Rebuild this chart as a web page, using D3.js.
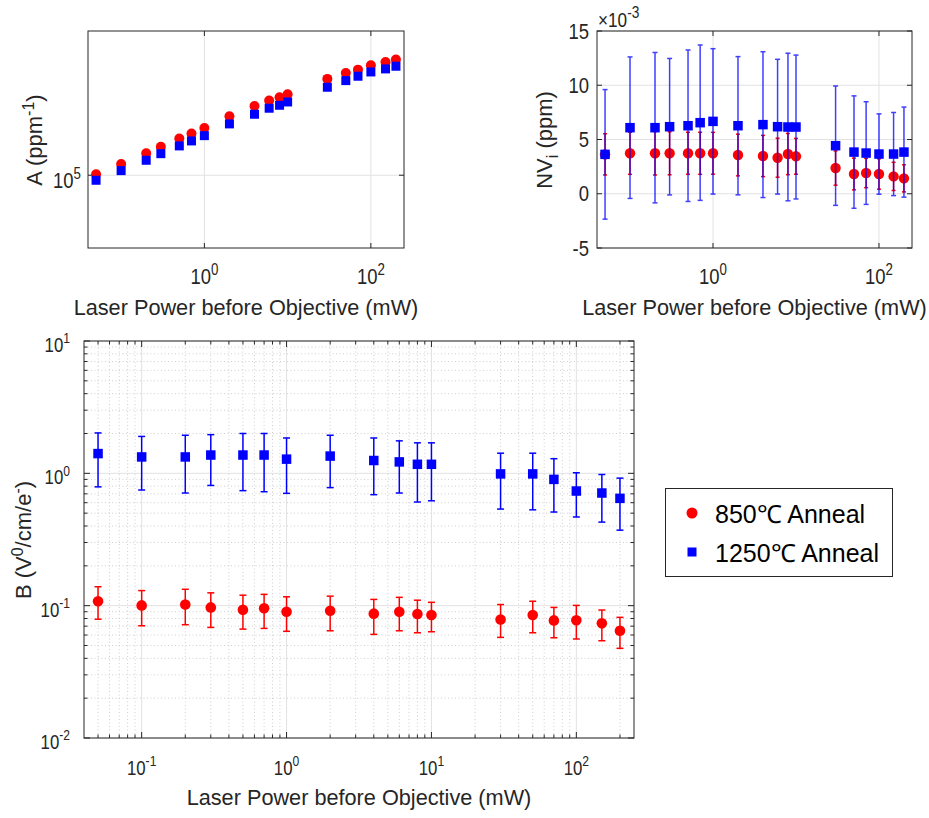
<!DOCTYPE html>
<html><head><meta charset="utf-8">
<script src="https://cdn.jsdelivr.net/npm/d3@7"></script>
<style>
body{margin:0;background:#fff}
text{font-family:"Liberation Sans",Arial,Helvetica,sans-serif;fill:#262626}
</style>
</head><body>
<svg id="c" width="929" height="818"></svg>
<script>
// ---------- data ----------
const power = [0.05,0.1,0.2,0.3,0.5,0.7,1,2,4,6,8,10,30,50,70,100,150,200];

const A850  = [1.01e5,1.127e5,1.263e5,1.354e5,1.475e5,1.555e5,1.652e5,1.870e5,2.086e5,2.207e5,2.288e5,2.362e5,2.779e5,2.961e5,3.066e5,3.213e5,3.328e5,3.410e5];
const A1250 = [0.948e5,1.050e5,1.172e5,1.257e5,1.365e5,1.439e5,1.522e5,1.724e5,1.910e5,2.036e5,2.101e5,2.176e5,2.544e5,2.729e5,2.859e5,2.992e5,3.090e5,3.179e5];

const NV850     = [3.63e-3,3.73e-3,3.73e-3,3.73e-3,3.73e-3,3.73e-3,3.73e-3,3.57e-3,3.48e-3,3.32e-3,3.66e-3,3.45e-3,2.37e-3,1.82e-3,1.91e-3,1.82e-3,1.60e-3,1.42e-3];
const NV850err  = [1.90e-3,1.94e-3,2.00e-3,1.98e-3,1.94e-3,1.94e-3,1.93e-3,1.92e-3,1.90e-3,1.80e-3,1.90e-3,1.65e-3,1.58e-3,1.46e-3,1.35e-3,1.40e-3,1.30e-3,1.25e-3];
const NV1250    = [3.63e-3,6.09e-3,6.09e-3,6.18e-3,6.27e-3,6.55e-3,6.67e-3,6.27e-3,6.37e-3,6.18e-3,6.15e-3,6.15e-3,4.43e-3,3.84e-3,3.75e-3,3.66e-3,3.66e-3,3.84e-3];
const NV1250err = [5.97e-3,6.52e-3,6.93e-3,6.29e-3,6.98e-3,7.16e-3,6.70e-3,6.37e-3,6.72e-3,6.21e-3,6.80e-3,6.63e-3,5.50e-3,5.18e-3,4.73e-3,3.70e-3,3.83e-3,4.15e-3];

const B850    = [0.108,0.1005,0.102,0.097,0.093,0.0955,0.090,0.0916,0.087,0.090,0.0864,0.0849,0.0787,0.0849,0.0774,0.0776,0.0735,0.0646];
const B850hi  = [0.139,0.130,0.133,0.125,0.120,0.1217,0.1167,0.118,0.1115,0.1156,0.110,0.106,0.102,0.108,0.097,0.1005,0.0927,0.0816];
const B850lo  = [0.079,0.0705,0.0718,0.0685,0.0665,0.0673,0.064,0.0646,0.0607,0.0646,0.0624,0.0635,0.0576,0.0624,0.0572,0.056,0.0543,0.0476];
const B1250   = [1.41,1.33,1.33,1.375,1.375,1.375,1.28,1.35,1.25,1.22,1.17,1.17,0.99,0.99,0.90,0.735,0.71,0.647];
const B1250hi = [2.02,1.90,1.94,1.96,2.00,2.00,1.85,1.94,1.85,1.76,1.70,1.70,1.42,1.42,1.29,1.01,0.98,0.92];
const B1250lo = [0.79,0.748,0.71,0.81,0.74,0.726,0.706,0.78,0.69,0.71,0.607,0.62,0.537,0.53,0.51,0.468,0.428,0.372];

const seriesNames = ["850\u2103 Anneal", "1250\u2103 Anneal"];
const xLabel = "Laser Power before Objective (mW)";
const topXTicks = [1, 100];
const bottomXTicks = [0.1, 1, 10, 100];
const bottomYTicks = [0.01, 0.1, 1, 10];
const nvTicks = [-5e-3, 0, 5e-3, 10e-3, 15e-3];
const aTicks = [1e5];

// ---------- setup ----------
const svg = d3.select('#c');
svg.append('rect').attr('width',929).attr('height',818).attr('fill','#fff');
const RED = '#ff0000', BLUE = '#0000ff', AX = '#262626', GRID = '#e2e2e2';

function pow10Label(g, x, y, exp, anchor, size, sx){
  const t = g.append('text').attr('transform',`translate(${x},${y}) scale(${sx},1)`)
    .attr('text-anchor',anchor).attr('font-size',size);
  t.append('tspan').text('10');
  t.append('tspan').attr('dy',-size*0.42).attr('font-size',size*0.72).text(exp);
  return t;
}
function plainLabel(g, x, y, s, anchor, size, sx){
  return g.append('text').attr('transform',`translate(${x},${y}) scale(${sx},1)`)
    .attr('text-anchor',anchor).attr('font-size',size).text(s);
}
function frame(g, L, R, T, Bt){
  g.append('rect').attr('x',L).attr('y',T).attr('width',R-L).attr('height',Bt-T)
    .attr('fill','none').attr('stroke',AX).attr('stroke-width',1);
}
function vline(g,x,T,Bt,stroke,dash){
  const l=g.append('line').attr('x1',x).attr('x2',x).attr('y1',T).attr('y2',Bt).attr('stroke',stroke).attr('stroke-width',1);
  if(dash) l.attr('stroke-dasharray',dash);
}
function hline(g,y,L,R,stroke,dash){
  const l=g.append('line').attr('y1',y).attr('y2',y).attr('x1',L).attr('x2',R).attr('stroke',stroke).attr('stroke-width',1);
  if(dash) l.attr('stroke-dasharray',dash);
}
function markers(g, xs, ys, x, y, type, color, size){
  const d = xs.map((v,i)=>[v,ys[i]]);
  if(type==='circle'){
    g.selectAll(null).data(d).enter().append('circle')
      .attr('cx',p=>x(p[0])).attr('cy',p=>y(p[1])).attr('r',size).attr('fill',color);
  } else {
    g.selectAll(null).data(d).enter().append('rect')
      .attr('x',p=>x(p[0])-size/2).attr('y',p=>y(p[1])-size/2)
      .attr('width',size).attr('height',size).attr('fill',color);
  }
}
function errBars(g, xs, lo, hi, x, y, color, cap, opacity){
  const d = xs.map((v,i)=>({x:v,lo:lo[i],hi:hi[i]}));
  const gg = g.append('g').attr('stroke',color).attr('stroke-width',1.5).attr('opacity',opacity||1);
  gg.selectAll(null).data(d).enter().append('line')
    .attr('x1',p=>x(p.x)).attr('x2',p=>x(p.x)).attr('y1',p=>y(p.lo)).attr('y2',p=>y(p.hi));
  gg.selectAll(null).data(d).enter().append('line')
    .attr('x1',p=>x(p.x)-cap/2).attr('x2',p=>x(p.x)+cap/2).attr('y1',p=>y(p.lo)).attr('y2',p=>y(p.lo));
  gg.selectAll(null).data(d).enter().append('line')
    .attr('x1',p=>x(p.x)-cap/2).attr('x2',p=>x(p.x)+cap/2).attr('y1',p=>y(p.hi)).attr('y2',p=>y(p.hi));
}
const expOf = v => String(Math.round(Math.log10(v)));

// ================= Top-left: A =================
{
  const L=88,R=404,T=31,Bt=248;
  const g = svg.append('g');
  const x = d3.scaleLog().domain([0.04,250]).range([L,R]);
  const y = d3.scaleLog().domain([4.62e4,4.62e5]).range([Bt,T]);
  topXTicks.forEach(v=>vline(g,x(v),T,Bt,GRID));
  aTicks.forEach(v=>hline(g,y(v),L,R,GRID));
  topXTicks.forEach(v=>{ vline(g,x(v),Bt-5,Bt,AX); vline(g,x(v),T,T+5,AX); });
  aTicks.forEach(v=>{ hline(g,y(v),L,L+5,AX); hline(g,y(v),R-5,R,AX); });
  frame(g,L,R,T,Bt);
  markers(g,power,A850,x,y,'circle',RED,5);
  markers(g,power,A1250,x,y,'square',BLUE,9);
  topXTicks.forEach(v=>pow10Label(g,x(v),284,expOf(v),'middle',22,0.84));
  aTicks.forEach(v=>pow10Label(g,81,y(v)+13,expOf(v),'end',22,0.84));
  g.append('text').attr('x',(L+R)/2).attr('y',315).attr('text-anchor','middle').attr('font-size',21.7).text(xLabel);
  const yl = g.append('text').attr('transform','translate(42,140) rotate(-90)').attr('text-anchor','middle').attr('font-size',22);
  yl.append('tspan').text('A (ppm');
  yl.append('tspan').attr('dy',-8).attr('font-size',16).text('-1');
  yl.append('tspan').attr('dy',8).text(')');
}

// ================= Top-right: NV_i =================
{
  const L=597,R=912,T=31,Bt=248;
  const g = svg.append('g');
  const x = d3.scaleLog().domain([0.04,250]).range([L,R]);
  const y = d3.scaleLinear().domain([-5e-3,15e-3]).range([Bt,T]);
  topXTicks.forEach(v=>vline(g,x(v),T,Bt,GRID));
  nvTicks.forEach(v=>hline(g,y(v),L,R,GRID));
  topXTicks.forEach(v=>{ vline(g,x(v),Bt-5,Bt,AX); vline(g,x(v),T,T+5,AX); });
  nvTicks.forEach(v=>{ hline(g,y(v),L,L+5,AX); hline(g,y(v),R-5,R,AX); });
  frame(g,L,R,T,Bt);
  errBars(g,power,NV850.map((v,i)=>v-NV850err[i]),NV850.map((v,i)=>v+NV850err[i]),x,y,RED,4,1);
  markers(g,power,NV850,x,y,'circle',RED,5.2);
  errBars(g,power,NV1250.map((v,i)=>v-NV1250err[i]),NV1250.map((v,i)=>v+NV1250err[i]),x,y,BLUE,5,0.75);
  markers(g,power,NV1250,x,y,'square',BLUE,9.5);
  topXTicks.forEach(v=>pow10Label(g,x(v),284,expOf(v),'middle',22,0.84));
  nvTicks.forEach(v=>plainLabel(g,589,y(v)+7.5,String(Math.round(v*1e3)),'end',22,0.84));
  const m = g.append('text').attr('transform','translate(598,27) scale(0.86,1)').attr('font-size',20);
  m.append('tspan').text('\u00d710');
  m.append('tspan').attr('dy',-9).attr('font-size',16).text('-3');
  g.append('text').attr('x',(L+R)/2).attr('y',315).attr('text-anchor','middle').attr('font-size',21.7).text(xLabel);
  const yl = g.append('text').attr('transform','translate(552,140) rotate(-90)').attr('text-anchor','middle').attr('font-size',22);
  yl.append('tspan').text('NV');
  yl.append('tspan').attr('dy',6).attr('font-size',16).text('i');
  yl.append('tspan').attr('dy',-6).text(' (ppm)');
}

// ================= Bottom: B =================
{
  const L=84,R=634,T=341,Bt=738;
  const g = svg.append('g');
  const x = d3.scaleLog().domain([0.04,250]).range([L,R]);
  const y = d3.scaleLog().domain([0.01,10]).range([Bt,T]);
  const minorX = [], minorY = [];
  [0.01,0.1,1,10,100].forEach(d=>{ for(let k=2;k<=9;k++){ const v=d*k; if(v>0.04&&v<250) minorX.push(v);} });
  [0.01,0.1,1].forEach(d=>{ for(let k=2;k<=9;k++) minorY.push(d*k); });
  minorX.forEach(v=>vline(g,x(v),T,Bt,'#cfcfcf','1,2.5'));
  minorY.forEach(v=>hline(g,y(v),L,R,'#cfcfcf','1,2.5'));
  bottomXTicks.forEach(v=>vline(g,x(v),T,Bt,GRID));
  bottomYTicks.forEach(v=>hline(g,y(v),L,R,GRID));
  minorX.forEach(v=>{ vline(g,x(v),Bt-3.5,Bt,AX); vline(g,x(v),T,T+3.5,AX); });
  bottomXTicks.forEach(v=>{ vline(g,x(v),Bt-6,Bt,AX); vline(g,x(v),T,T+6,AX); });
  minorY.forEach(v=>{ hline(g,y(v),L,L+3.5,AX); hline(g,y(v),R-3.5,R,AX); });
  bottomYTicks.forEach(v=>{ hline(g,y(v),L,L+6,AX); hline(g,y(v),R-6,R,AX); });
  frame(g,L,R,T,Bt);
  errBars(g,power,B850lo,B850hi,x,y,RED,7,1);
  markers(g,power,B850,x,y,'circle',RED,5.3);
  errBars(g,power,B1250lo,B1250hi,x,y,BLUE,7,1);
  markers(g,power,B1250,x,y,'square',BLUE,9.5);
  bottomXTicks.forEach(v=>pow10Label(g,x(v),775,expOf(v),'middle',21,0.8));
  bottomYTicks.forEach(v=>pow10Label(g,70,y(v)+11,expOf(v),'end',21,0.8));
  g.append('text').attr('x',(L+R)/2).attr('y',805).attr('text-anchor','middle').attr('font-size',21.7).text(xLabel);
  const yl = g.append('text').attr('transform','translate(31,540) rotate(-90)').attr('text-anchor','middle').attr('font-size',22);
  yl.append('tspan').text('B (V');
  yl.append('tspan').attr('dy',-8).attr('font-size',16).text('0');
  yl.append('tspan').attr('dy',8).text('/cm/e');
  yl.append('tspan').attr('dy',-8).attr('font-size',16).text('-');
  yl.append('tspan').attr('dy',8).text(')');
}

// ================= Legend =================
{
  const g = svg.append('g');
  g.append('rect').attr('x',665.5).attr('y',488.5).attr('width',227).attr('height',88)
    .attr('fill','#fff').attr('stroke',AX).attr('stroke-width',1);
  const colors=[RED,BLUE], types=['circle','square'], ys=[513,552];
  seriesNames.forEach((s,i)=>{
    if(types[i]==='circle') g.append('circle').attr('cx',692).attr('cy',ys[i]).attr('r',5.5).attr('fill',colors[i]);
    else g.append('rect').attr('x',692-4.5).attr('y',ys[i]-4.5).attr('width',9).attr('height',9).attr('fill',colors[i]);
    g.append('text').attr('x',715).attr('y',ys[i]+10).attr('font-size',25).style('fill','#000').text(s);
  });
}
</script>
</body></html>
